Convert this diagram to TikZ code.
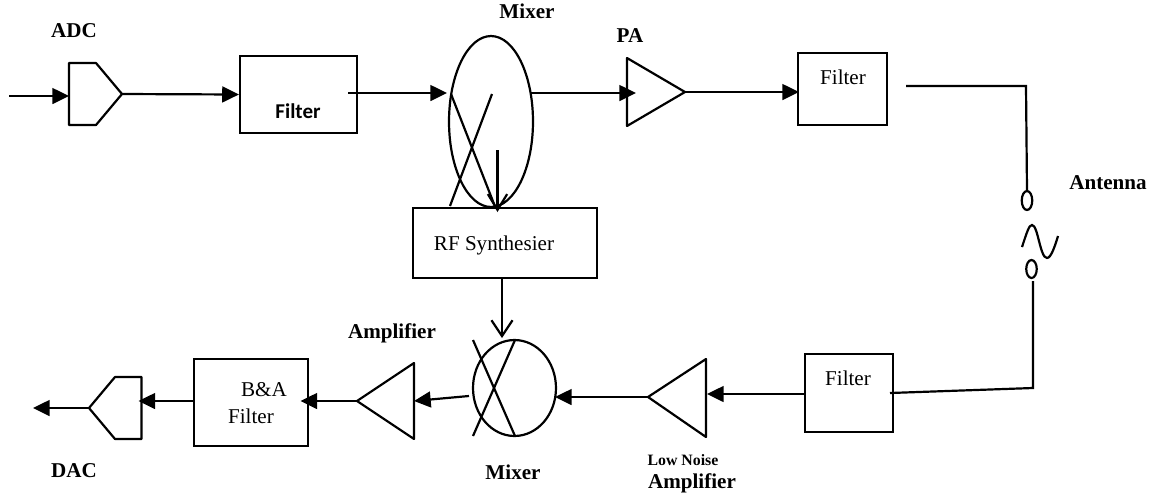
\documentclass[tikz,border=0pt]{standalone}
\usepackage{fontspec}
\setmainfont{Liberation Serif}
\newfontfamily\filterfont{Carlito}
\usetikzlibrary{arrows.meta,shapes.geometric}

\begin{document}
\begin{tikzpicture}[
    x=0.02cm,
    y=-0.02cm,
    line width=1.25pt,
    wire/.style={
        -{Triangle[length=9.5pt,width=9pt]}
    },
    block/.style={
        draw,
        inner sep=0pt
    },
    plainlabel/.style={
        font=\fontsize{12}{14}\selectfont,
        inner sep=0pt
    },
    boldlabel/.style={
        font=\fontsize{12}{14}\selectfont\bfseries,
        inner sep=0pt
    }
]
\useasboundingbox (0,0) rectangle (1157,495);


\node[block,minimum width=2.34cm,minimum height=1.54cm] (filterone) at (298.5,94.5) {};
\node[block,minimum width=1.78cm,minimum height=1.44cm] (filtertwo) at (842.5,89) {};
\node[block,minimum width=1.76cm,minimum height=1.56cm] (filterthree) at (849,393) {};
\node[block,minimum width=2.28cm,minimum height=1.74cm] (bafilter) at (251,402.5) {};
\node[block,minimum width=3.68cm,minimum height=1.40cm] (synth) at (505,243) {};


\node[block,ellipse,minimum width=1.68cm,minimum height=3.42cm] (mixerone) at (491,121.5) {};
\node[block,ellipse,minimum width=1.66cm,minimum height=1.92cm] (mixertwo) at (514.5,388) {};
\node[block,ellipse,minimum width=0.21cm,minimum height=0.38cm] (antop) at (1027,200.5) {};
\node[block,ellipse,minimum width=0.21cm,minimum height=0.36cm] (anbot) at (1031.5,269) {};


\coordinate (adctip) at (122,94);
\coordinate (datip) at (89,408);
\coordinate (patip) at (685,92);
\coordinate (lnatip) at (648,397);
\coordinate (amptip) at (357,401);

\draw[line join=round] (69,63) -- (96,63) -- (adctip) -- (96,125) -- (69,125) -- cycle;
\draw[line join=round] (141.5,377) -- (115,377) -- (datip) -- (115,439) -- (141.5,439) -- cycle;
\draw[line join=round] (627,58) -- (patip) -- (627,126) -- cycle;
\draw[line join=round] (706,359) -- (lnatip) -- (706,437) -- cycle;
\draw[line join=round] (414,363) -- (amptip) -- (414,439) -- cycle;


\draw (451,94) -- (495.6,208);
\draw (492,94) -- (450,206);
\draw (473,340) -- (515,436);
\draw (515,340) -- (473,436);


\coordinate (rfin) at (9,96);
\coordinate (adcin) at (69,96);
\coordinate (filterout) at (348,93);
\coordinate (mixerin) at (447,93);
\coordinate (mixerout) at (531,93);
\coordinate (pain) at (636,93);
\coordinate (twoin) at (799,92);
\coordinate (twoout) at (906,86);
\coordinate (corner) at (1026,86);
\coordinate (threeout) at (890,393);
\coordinate (lowcorner) at (1033,388);
\coordinate (anfoot) at (1033,281);
\coordinate (threein) at (805,394);
\coordinate (lnain) at (707,394);
\coordinate (mixtwoin) at (555,397);
\coordinate (mixtwoout) at (469,396);
\coordinate (ampin) at (414,401);
\coordinate (bain) at (300.5,401);
\coordinate (baout) at (194,401);
\coordinate (dain) at (138.5,401);
\coordinate (daout) at (33,408);
\coordinate (synthtop) at (497.5,150);
\coordinate (synthhit) at (497.5,212);
\coordinate (synthout) at (502,278);
\coordinate (mixtwotop) at (502,338);


\draw[wire] (rfin) -- (adcin);
\draw[wire] (adctip) -- (filterone.west);
\draw[wire] (filterout) -- (mixerin);
\draw[wire] (mixerout) -- (pain);
\draw[wire] (patip) -- (twoin);
\draw (twoout) -- (corner) -- (antop.north);
\draw (anfoot) -- (lowcorner) -- (threeout);
\draw[wire] (threein) -- (lnain);
\draw[wire] (lnatip) -- (mixtwoin);
\draw[wire] (mixtwoout) -- (ampin);
\draw[wire] (amptip) -- (bain);
\draw[wire] (baout) -- (dain);
\draw[wire] (datip) -- (daout);

\draw[-{Straight Barb[length=9pt,width=11pt]}] (synthtop) -- (synthhit);
\draw[-{Straight Barb[length=9pt,width=12pt]}] (synthout) -- (mixtwotop);


\draw (1022,247) .. controls (1027,232) and (1029,225) .. (1032,225)
    .. controls (1038,225) and (1040,258) .. (1047,258)
    .. controls (1051,258) and (1055,246) .. (1058,236);


\node[boldlabel] (adclabel) at (74,31) {ADC};
\node[boldlabel] (dalabel) at (74,471) {DAC};
\node[boldlabel] (mixeronelabel) at (527,11) {Mixer};
\node[boldlabel] (mixertwolabel) at (513,472) {Mixer};
\node[boldlabel] (palabel) at (630,36) {PA};
\node[boldlabel] (antennalabel) at (1108,183) {Antenna};
\node[boldlabel] (amplabel) at (392,333) {Amplifier};
\node[boldlabel,font=\fontsize{9}{11}\selectfont\bfseries] (lowlabel) at (683,460) {Low Noise};
\node[boldlabel] (lnalabel) at (692,483) {Amplifier};

\node[plainlabel,font=\fontsize{12}{14}\selectfont\bfseries\filterfont] (filteronelabel) at (298,111) {Filter};
\node[plainlabel] (filtertwolabel) at (843,77) {Filter};
\node[plainlabel] (filterthreelabel) at (848,378) {Filter};
\node[plainlabel] (synthlabel) at (494,245) {RF Synthesier};
\node[plainlabel] (balabel) at (264,390) {B\&A};
\node[plainlabel] (bafilterlabel) at (251,416) {Filter};

\end{tikzpicture}
\end{document}
